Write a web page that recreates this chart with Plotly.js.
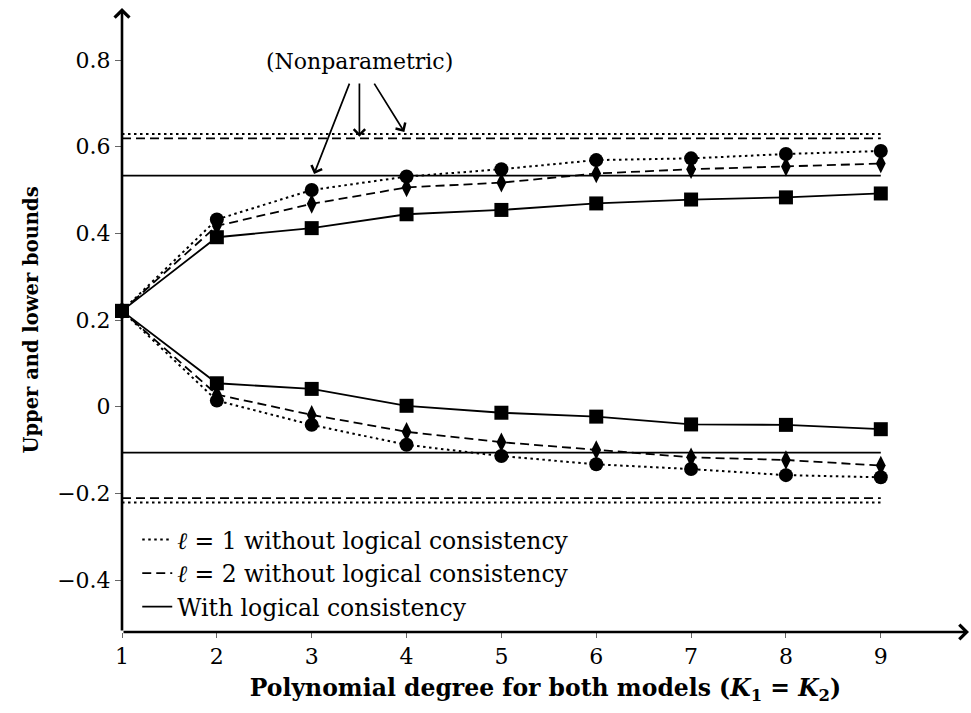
<!DOCTYPE html>
<html>
<head>
<meta charset="utf-8">
<script src="https://cdn.plot.ly/plotly-3.0.1.min.js"></script>
<style>html,body{margin:0;padding:0;background:#fff;}#chart{width:971px;height:713px;}</style>
</head>
<body>
<div id="chart"></div>
<script>
const degrees = [1, 2, 3, 4, 5, 6, 7, 8, 9];
const upperL1 = [0.221, 0.432, 0.500, 0.531, 0.548, 0.569, 0.573, 0.583, 0.590];
const upperL2 = [0.221, 0.417, 0.468, 0.506, 0.517, 0.538, 0.548, 0.554, 0.561];
const upperLC = [0.221, 0.391, 0.412, 0.444, 0.454, 0.469, 0.478, 0.483, 0.492];
const lowerL1 = [0.221, 0.014, -0.042, -0.088, -0.114, -0.133, -0.144, -0.158, -0.163];
const lowerL2 = [0.221, 0.028, -0.019, -0.058, -0.082, -0.100, -0.117, -0.123, -0.136];
const lowerLC = [0.221, 0.054, 0.041, 0.002, -0.014, -0.023, -0.041, -0.042, -0.052];
const nonparL1 = [0.629, -0.221];
const nonparL2 = [0.619, -0.211];
const nonparLC = [0.533, -0.106];
const nonparSpan = [1, 9];
const legendNames = ['<i>ℓ</i> = 1 without logical consistency', '<i>ℓ</i> = 2 without logical consistency', 'With logical consistency'];
const yTickVals = [-0.4, -0.2, 0, 0.2, 0.4, 0.6, 0.8];
const yTickText = ['\u22120.4', '\u22120.2', '0', '0.2', '0.4', '0.6', '0.8'];
const xTickVals = [1, 2, 3, 4, 5, 6, 7, 8, 9];
const nonparLabel = '(Nonparametric)';

const FONT = 'DejaVu Serif';
const dotLine = {color: 'black', width: 2, dash: '2.5px,3.5px'};
const dashLine = {color: 'black', width: 1.8, dash: '9px,5px'};
const solidLine = {color: 'black', width: 1.8};

function hline(vals, idx, line, name, showlegend) {
  return {x: nonparSpan, y: [vals[idx], vals[idx]], mode: 'lines', line: line, name: name,
          showlegend: showlegend, hoverinfo: 'skip', cliponaxis: false};
}
function series(y, line, symbol, size) {
  return {x: degrees, y: y, mode: 'lines+markers', line: line,
          marker: {symbol: symbol, size: size, color: 'black'}, showlegend: false, cliponaxis: false};
}

const traces = [
  hline(nonparL1, 0, dotLine, legendNames[0], true),
  hline(nonparL2, 0, dashLine, legendNames[1], true),
  hline(nonparLC, 0, solidLine, legendNames[2], true),
  hline(nonparL1, 1, dotLine, legendNames[0], false),
  hline(nonparL2, 1, dashLine, legendNames[1], false),
  hline(nonparLC, 1, solidLine, legendNames[2], false),
  series(upperL1, dotLine, 'circle', 14),
  series(lowerL1, dotLine, 'circle', 14),
  series(upperL2, dashLine, 'diamond-tall', 14),
  series(lowerL2, dashLine, 'diamond-tall', 14),
  series(upperLC, solidLine, 'square', 14),
  series(lowerLC, solidLine, 'square', 14)
];

const xMin = 1, xMax = 9.93, yMin = -0.52, yMax = 0.92;

const annotations = [
  {x: xMax, y: yMin, ax: xMin, ay: yMin, xref: 'x', yref: 'y', axref: 'x', ayref: 'y', text: '',
   showarrow: true, arrowhead: 4, arrowsize: 1.1, arrowwidth: 2.6, arrowcolor: 'black', standoff: 0},
  {x: xMin, y: yMax, ax: xMin, ay: yMin, xref: 'x', yref: 'y', axref: 'x', ayref: 'y', text: '',
   showarrow: true, arrowhead: 4, arrowsize: 1.1, arrowwidth: 2.6, arrowcolor: 'black', standoff: 0},
  {x: 3.5, y: 0.797, xref: 'x', yref: 'y', text: nonparLabel, showarrow: false,
   font: {family: FONT, size: 22, color: 'black'}},
  {x: 3.025, y: 0.537, ax: 3.404, ay: 0.749, xref: 'x', yref: 'y', axref: 'x', ayref: 'y', text: '',
   showarrow: true, arrowhead: 4, arrowsize: 1.3, arrowwidth: 1.7, arrowcolor: 'black', standoff: 0},
  {x: 3.503, y: 0.623, ax: 3.503, ay: 0.749, xref: 'x', yref: 'y', axref: 'x', ayref: 'y', text: '',
   showarrow: true, arrowhead: 4, arrowsize: 1.3, arrowwidth: 1.7, arrowcolor: 'black', standoff: 0},
  {x: 3.977, y: 0.634, ax: 3.650, ay: 0.749, xref: 'x', yref: 'y', axref: 'x', ayref: 'y', text: '',
   showarrow: true, arrowhead: 4, arrowsize: 1.3, arrowwidth: 1.7, arrowcolor: 'black', standoff: 0}
];

const layout = {
  width: 971, height: 713,
  margin: {l: 122, r: 2, t: 8, b: 81, pad: 0},
  paper_bgcolor: 'white', plot_bgcolor: 'white',
  font: {family: FONT, size: 22, color: 'black'},
  showlegend: true,
  legend: {x: 0.018, y: 0.183, xanchor: 'left', yanchor: 'top', bgcolor: 'rgba(0,0,0,0)',
           font: {family: FONT, size: 23.5, color: 'black'}, tracegroupgap: 0, itemwidth: 30},
  xaxis: {range: [xMin, xMax], showline: false, zeroline: false, showgrid: false,
          tickmode: 'array', tickvals: xTickVals, ticks: 'outside', ticklen: 5, tickcolor: '#666', tickwidth: 1,
          tickfont: {family: FONT, size: 22},
          title: {text: '<b>Polynomial degree for both models (<i>K</i><sub>1</sub> = <i>K</i><sub>2</sub>)</b>',
                  font: {family: FONT, size: 23.5}, standoff: 11}},
  yaxis: {range: [yMin, yMax], showline: false, zeroline: false, showgrid: false,
          tickmode: 'array', tickvals: yTickVals, ticktext: yTickText, ticks: 'outside', ticklen: 6, tickcolor: '#666', tickwidth: 1,
          tickfont: {family: FONT, size: 22},
          title: {text: '<b>Upper and lower bounds</b>', font: {family: FONT, size: 19.5}, standoff: 13}},
  annotations: annotations
};

Plotly.newPlot('chart', traces, layout, {displayModeBar: false, staticPlot: true});
</script>
</body>
</html>
